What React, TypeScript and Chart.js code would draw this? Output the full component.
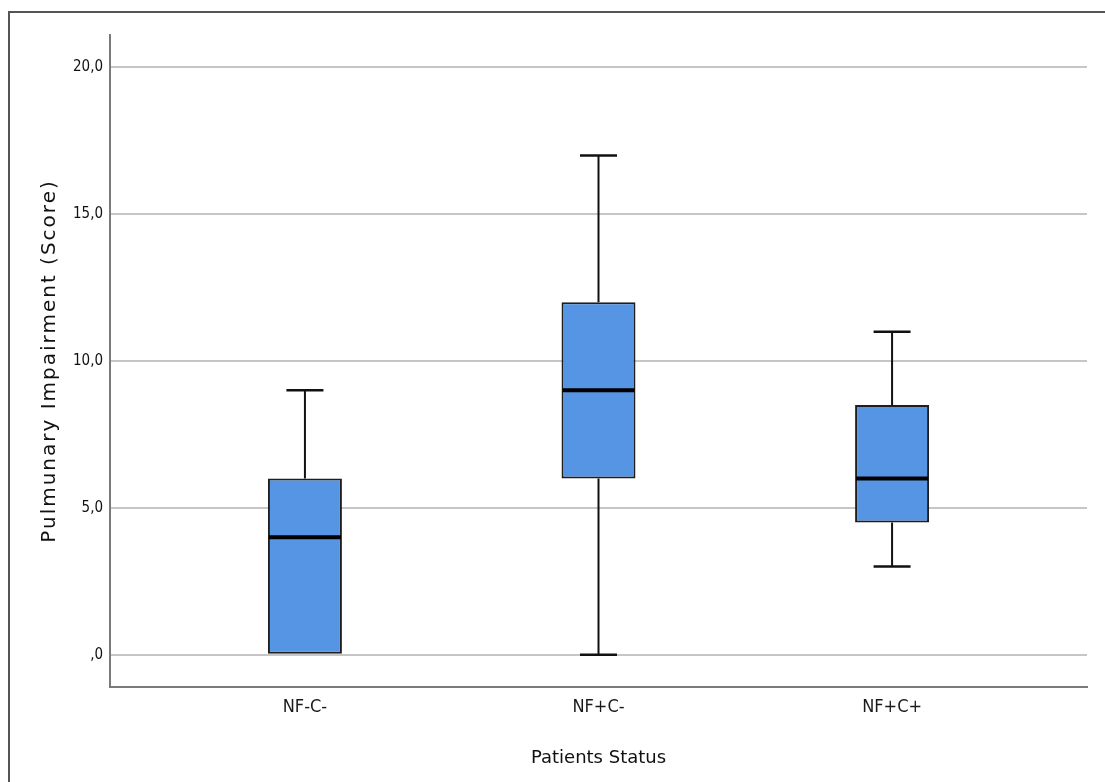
import React, { useEffect, useRef } from 'react';
import { Chart, registerables } from 'chart.js';

Chart.register(...registerables);

// ---- data ----
const categories = ['NF-C-', 'NF+C-', 'NF+C+'];
const whiskerMin = [0, 0, 3];
const quartile1 = [0, 6, 4.5];
const medians = [4, 9, 6];
const quartile3 = [6, 12, 8.5];
const whiskerMax = [9, 17, 11];
const yTickValues = [0, 5, 10, 15, 20];
const yTickLabels = [',0', '5,0', '10,0', '15,0', '20,0'];
const xTitleText = 'Patients Status';
const yTitleText = 'Pulmunary Impairment (Score)';

const BOX_FILL = '#5694e4';
const INK = '#111111';

function strokeLine(ctx: CanvasRenderingContext2D, x1: number, y1: number, x2: number, y2: number, w: number) {
  ctx.beginPath();
  ctx.lineWidth = w;
  ctx.moveTo(x1, y1);
  ctx.lineTo(x2, y2);
  ctx.stroke();
}

const framePlugin = {
  id: 'frame',
  beforeDraw(chart: any) {
    const { ctx, width, height } = chart;
    ctx.save();
    ctx.strokeStyle = '#555555';
    ctx.lineWidth = 2;
    ctx.beginPath();
    ctx.moveTo(9, height);
    ctx.lineTo(9, 12);
    ctx.lineTo(width, 12);
    ctx.stroke();
    ctx.restore();
  },
  afterDraw(chart: any) {
    const { ctx, chartArea } = chart;
    ctx.save();
    const cy = (chartArea.top + chartArea.bottom) / 2;
    ctx.translate(55, cy);
    ctx.rotate(-Math.PI / 2);
    ctx.font = '20px "DejaVu Sans"';
    (ctx as any).letterSpacing = '2px';
    ctx.fillStyle = '#111111';
    ctx.textAlign = 'center';
    ctx.textBaseline = 'alphabetic';
    ctx.fillText(yTitleText, 0, 0);
    ctx.restore();
  },
};

const whiskerPlugin = {
  id: 'whiskers',
  beforeDatasetsDraw(chart: any) {
    const { ctx } = chart;
    const x = chart.scales.x;
    const y = chart.scales.y;
    const meta = chart.getDatasetMeta(0);
    ctx.save();
    ctx.strokeStyle = INK;
    ctx.lineCap = 'butt';
    categories.forEach((_, i) => {
      const bar = meta.data[i];
      if (!bar) return;
      const cx = x.getPixelForValue(i + 1);
      const capHalf = bar.width / 4;
      if (whiskerMax[i] > quartile3[i]) {
        const yTop = y.getPixelForValue(whiskerMax[i]);
        strokeLine(ctx, cx, y.getPixelForValue(quartile3[i]), cx, yTop, 2);
        strokeLine(ctx, cx - capHalf, yTop, cx + capHalf, yTop, 2.5);
      }
      if (whiskerMin[i] < quartile1[i]) {
        const yBot = y.getPixelForValue(whiskerMin[i]);
        strokeLine(ctx, cx, y.getPixelForValue(quartile1[i]), cx, yBot, 2);
        strokeLine(ctx, cx - capHalf, yBot, cx + capHalf, yBot, 2.5);
      }
    });
    ctx.restore();
  },
  afterDatasetsDraw(chart: any) {
    const { ctx } = chart;
    const x = chart.scales.x;
    const y = chart.scales.y;
    const meta = chart.getDatasetMeta(0);
    ctx.save();
    ctx.strokeStyle = '#000000';
    categories.forEach((_, i) => {
      const bar = meta.data[i];
      if (!bar) return;
      const cx = x.getPixelForValue(i + 1);
      const half = bar.width / 2;
      const ym = y.getPixelForValue(medians[i]);
      strokeLine(ctx, cx - half + 1, ym, cx + half - 1, ym, 4);
    });
    ctx.restore();
  },
};

export default function App() {
  const canvasRef = useRef<HTMLCanvasElement | null>(null);

  useEffect(() => {
    const canvas = canvasRef.current;
    if (!canvas) return;
    const chart = new Chart(canvas, {
      type: 'bar',
      data: {
        datasets: [
          {
            data: categories.map((_, i) => ({ x: i + 1, y: [quartile1[i], quartile3[i]] })) as any,
            backgroundColor: BOX_FILL,
            borderColor: '#1e1e1e',
            borderWidth: 2,
            borderSkipped: false,
            barPercentage: 0.252,
            categoryPercentage: 1,
          },
        ],
      },
      options: {
        animation: false,
        responsive: false,
        devicePixelRatio: 1,
        layout: { padding: { top: 35, right: 18, left: 0, bottom: 0 } },
        plugins: {
          legend: { display: false },
          tooltip: { enabled: false },
          title: { display: false },
        },
        scales: {
          x: {
            type: 'linear',
            offset: false,
            min: 0.336,
            max: 3.664,
            afterBuildTicks: (s: any) => {
              s.ticks = categories.map((_, i) => ({ value: i + 1 }));
            },
            afterFit: (s: any) => {
              s.height = 95;
            },
            grid: { display: false, drawTicks: false, offset: false },
            border: { display: true, color: '#7a7a7a', width: 2 },
            ticks: {
              autoSkip: false,
              maxRotation: 0,
              padding: 10,
              color: '#1a1a1a',
              font: { family: '"DejaVu Sans Condensed"', size: 18 },
              callback: (v: any) => categories[Math.round(Number(v)) - 1] ?? '',
            },
            title: {
              display: true,
              text: xTitleText,
              color: '#111111',
              font: { family: '"DejaVu Sans"', size: 18 },
              padding: { top: 0, bottom: 13 },
            },
          },
          y: {
            type: 'linear',
            min: -1.1,
            max: 21.1,
            afterBuildTicks: (s: any) => {
              s.ticks = yTickValues.map((v) => ({ value: v }));
            },
            afterFit: (s: any) => {
              s.width = 110;
            },
            grid: { color: '#c6c6c6', lineWidth: 2, drawTicks: false },
            border: { display: true, color: '#7a7a7a', width: 2 },
            ticks: {
              padding: 7,
              color: '#111111',
              font: { family: '"DejaVu Sans Condensed"', size: 15 },
              callback: (v: any) => {
                const idx = yTickValues.indexOf(Number(v));
                return idx >= 0 ? yTickLabels[idx] : '';
              },
            },
          },
        },
      },
      plugins: [framePlugin, whiskerPlugin],
    });
    return () => chart.destroy();
  }, []);

  return (
    <div style={{ position: 'absolute', left: 0, top: 0, width: 1105, height: 782, background: '#ffffff' }}>
      <canvas ref={canvasRef} width={1105} height={782} style={{ display: 'block' }} />
    </div>
  );
}
